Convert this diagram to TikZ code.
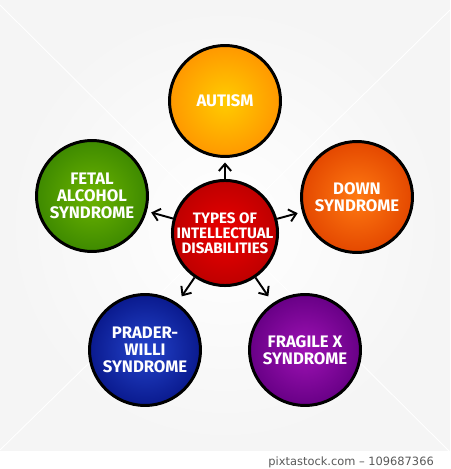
\documentclass[tikz,border=0pt]{standalone}
\usepackage{fontspec}
\setmainfont{Fira Sans}
\newfontfamily\creditfont{DejaVu Sans}
\usetikzlibrary{arrows.meta}

\definecolor{autismin}{HTML}{FFCC00}
\definecolor{autismout}{HTML}{FF9800}
\definecolor{fetalin}{HTML}{6CB400}
\definecolor{fetalout}{HTML}{3E8A00}
\definecolor{downin}{HTML}{FF7A12}
\definecolor{downout}{HTML}{E44800}
\definecolor{praderin}{HTML}{2444CC}
\definecolor{praderout}{HTML}{0A1A8E}
\definecolor{fragilein}{HTML}{9E12B4}
\definecolor{fragileout}{HTML}{680086}
\definecolor{typesin}{HTML}{EC0000}
\definecolor{typesout}{HTML}{BE0000}

\begin{document}
\begin{tikzpicture}[x=0.02cm, y=-0.02cm,
    bubble/.style={circle, draw=black, line width=1.7pt, minimum size=2.22cm,
      inner sep=0pt, align=center, text=white,
      font=\bfseries\fontsize{9.5}{9.5}\selectfont},
    link/.style={-{Straight Barb[length=4pt, width=7pt]}, line width=1.1pt,
      shorten >=0.09cm}]
    \useasboundingbox (0,0) rectangle (450,469);

    % background
    \fill[white] (0,0) rectangle (450,469);
    \shade[inner color=white, outer color=black!4] (0,0) rectangle (450,450);
    \draw[white, line width=0.5pt] (0,5) -- (450,452);
    \draw[white, line width=0.5pt] (450,10) -- (0,450);

    % center
    \node[bubble, minimum size=2.04cm, inner color=typesin, outer color=typesout,
      font=\bfseries\fontsize{8.6}{8.6}\selectfont]
      (types) at (225,233) {TYPES OF\\INTELLECTUAL\\DISABILITIES};

    % outer circles
    \node[bubble, inner color=autismin, outer color=autismout] (autism) at (225,101) {AUTISM};
    \node[bubble, inner color=fetalin, outer color=fetalout] (fetal) at (92,196) {FETAL\\ALCOHOL\\SYNDROME};
    \node[bubble, inner color=downin, outer color=downout] (down) at (357,197) {DOWN\\SYNDROME};
    \node[bubble, inner color=praderin, outer color=praderout] (prader) at (145,350) {PRADER-\\WILLI\\SYNDROME};
    \node[bubble, inner color=fragilein, outer color=fragileout] (fragile) at (305,350) {FRAGILE X\\SYNDROME};

    % arrows
    \draw[link] (types) -- (autism);
    \draw[link] (types) -- (fetal);
    \draw[link] (types) -- (down);
    \draw[link, shorten >=0.16cm] (types) -- (prader);
    \draw[link, shorten >=0.16cm] (types) -- (fragile);

    % credit line
    \node[anchor=base east, text=black!65, font=\creditfont\fontsize{6.5}{6.5}\selectfont]
      (credit) at (440,465) {pixtastock.com – 109687366};
  \end{tikzpicture}
\end{document}
